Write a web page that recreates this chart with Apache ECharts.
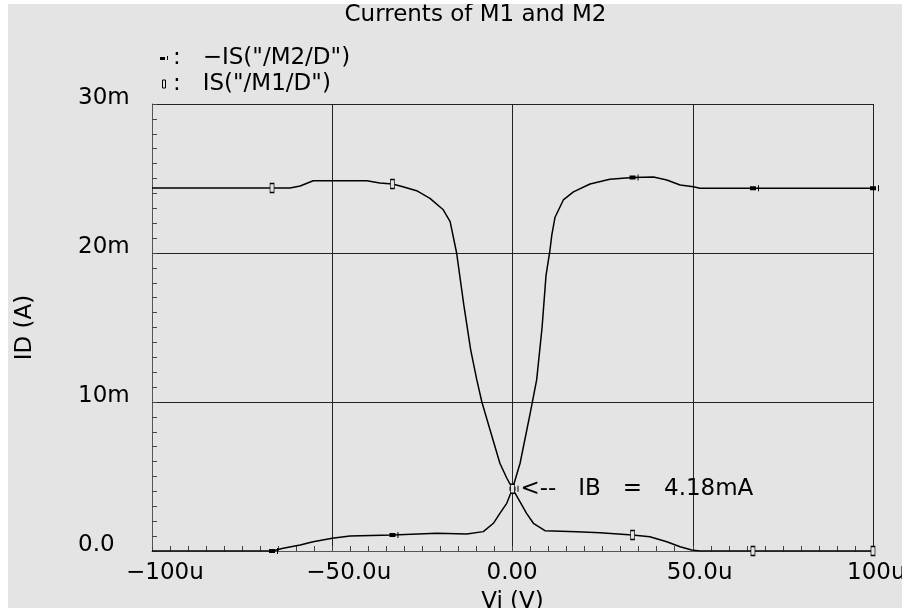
<!DOCTYPE html>
<html><head><meta charset="utf-8">
<script src="https://cdn.jsdelivr.net/npm/echarts/dist/echarts.min.js"></script>
<style>html,body{margin:0;padding:0;background:#fff;}#c{position:absolute;left:8px;top:4px;width:894px;height:604px;background:#e4e4e4;}</style>
</head><body><div id="c"></div><script>
// ---- data ----
const titleText = 'Currents of M1 and M2';
const xName = 'Vi (V)';
const yName = 'ID (A)';
const xTickValues = [-100, -50, 0, 50, 100];
const xTickLabels = ['−100u', '−50.0u', '0.00', '50.0u', '100u'];
const yTickValues = [0, 10, 20, 30];
const yTickLabels = ['0.0', '10m', '20m', '30m'];
const m1Name = 'IS("/M1/D")';
const m2Name = '−IS("/M2/D")';
// x in microvolts, y in milliamps
const m1X = [-100, -66.7, -61.7, -58.9, -55.3, -40.4, -36.8, -33.3, -30.4, -26.6, -22.9, -19.2, -17.3, -15.5, -13.5, -11.6, -9.9, -8.5, -6.2, -3.5, -1.6, 0, 2.1, 3.9, 5.8, 9.0, 17.8, 24.3, 33.3, 38.1, 42.8, 46.5, 49.7, 52.0, 66.7, 100];
const m1Y = [24.36, 24.36, 24.36, 24.5, 24.85, 24.85, 24.7, 24.63, 24.45, 24.18, 23.67, 22.9, 22.1, 20.0, 16.5, 13.5, 11.48, 10.0, 8.1, 5.89, 4.9, 4.18, 3.3, 2.53, 1.86, 1.36, 1.3, 1.23, 1.07, 0.96, 0.62, 0.29, 0.07, 0, 0, 0];
const m2X = [-100, -66.7, -63.6, -58.9, -55.3, -50.0, -45.1, -33.3, -21.0, -12.7, -8.1, -5.3, -3.5, -1.6, 0, 2.1, 4.9, 6.7, 8.2, 9.3, 10.4, 10.9, 11.8, 14.1, 16.9, 21.5, 27.0, 33.3, 39.1, 42.8, 46.5, 50.2, 52.0, 66.7, 100];
const m2Y = [0, 0, 0.18, 0.4, 0.62, 0.85, 1.0, 1.07, 1.19, 1.14, 1.3, 1.86, 2.53, 3.2, 4.18, 5.89, 9.24, 11.48, 15.0, 18.5, 20.2, 21.2, 22.4, 23.56, 24.1, 24.63, 24.95, 25.07, 25.1, 24.9, 24.56, 24.45, 24.34, 24.34, 24.34];
const markerX = [-66.7, -33.3, 0, 33.3, 66.7, 100];
const ibX = 0;
const ibValue = 4.18;
const ibText = '<--   IB   =   4.18mA';

// ---- style ----
const BG = '#e4e4e4';
const FF = '"DejaVu Sans", sans-serif';
const FS = 23;
const LH = 26;
const M2SYM = 'path://M0,1H6V5H0Z M8,0H9V6H8Z';
const M2LEG = 'path://M0,1H5V4H0Z M7,0H8V4H7Z';
const M1LEG = 'path://M0,0H3V8H0Z';

const ctx = document.createElement('canvas').getContext('2d');
ctx.font = FS + 'px "DejaVu Sans"';
const LEFT_SHIFT = 26;
const rich = { t: { fontFamily: FF, fontSize: FS, lineHeight: LH, color: '#000' } };
const xFmt = {};
xTickLabels.forEach((t, i) => {
  const w = ctx.measureText(t).width;
  const s = w - 2 * LEFT_SHIFT;
  rich['p' + i] = { width: Math.max(0.5, Math.abs(s)), lineHeight: LH, fontSize: FS, fontFamily: FF };
  xFmt[xTickValues[i]] = s >= 0 ? '{p' + i + '| }{t|' + t + '}' : '{t|' + t + '}{p' + i + '| }';
});
const titleW = ctx.measureText(titleText).width;

function buildData(xs, ys, markerStyle) {
  return xs.map((x, i) => {
    if (markerX.indexOf(x) >= 0) return Object.assign({ value: [x, ys[i]] }, markerStyle);
    return { value: [x, ys[i]], symbol: 'none' };
  });
}

const chart = echarts.init(document.getElementById('c'), null, { renderer: 'canvas' });
chart.setOption({
  animation: false,
  backgroundColor: BG,
  textStyle: { fontFamily: FF },
  title: {
    text: titleText, left: 467.5 - titleW / 2, top: -2, padding: 0,
    textStyle: { fontFamily: FF, fontSize: FS, fontWeight: 'normal', color: '#000', lineHeight: LH }
  },
  legend: {
    orient: 'vertical', left: 152, top: 41, padding: 0, itemGap: 0,
    itemWidth: 8, itemHeight: 8, selectedMode: false,
    formatter: n => ':   ' + n,
    textStyle: { fontFamily: FF, fontSize: FS, color: '#000', lineHeight: LH },
    data: [
      { name: m2Name, icon: M2LEG, itemStyle: { color: '#000', borderWidth: 0 } },
      { name: m1Name, icon: M1LEG, itemStyle: { color: BG, borderColor: '#000', borderWidth: 1 } }
    ]
  },
  grid: { left: 144, top: 100, width: 721, height: 447, containLabel: false, outerBoundsMode: 'none' },
  xAxis: {
    type: 'value', min: -100, max: 100, interval: 50,
    name: xName, nameLocation: 'middle', nameGap: 33,
    nameTextStyle: { fontFamily: FF, fontSize: FS, color: '#000', lineHeight: LH },
    axisLine: { show: true, onZero: false, lineStyle: { color: '#555', width: 1 } },
    axisTick: { show: true, inside: true, length: 5, lineStyle: { color: '#444' } },
    minorTick: { show: true, splitNumber: 10, length: 5, lineStyle: { color: '#444' } },
    splitLine: { show: true, lineStyle: { color: '#222', width: 1 } },
    axisLabel: {
      interval: 0, margin: 9, align: 'center', verticalAlign: 'top',
      formatter: v => xFmt[v] !== undefined ? xFmt[v] : '',
      rich: rich
    }
  },
  yAxis: {
    type: 'value', min: 0, max: 30, interval: 10,
    name: yName, nameLocation: 'middle', nameGap: 114, nameRotate: 90,
    nameTextStyle: { fontFamily: FF, fontSize: FS, color: '#000', lineHeight: LH },
    axisLine: { show: true, onZero: false, lineStyle: { color: '#555', width: 1 } },
    axisTick: { show: true, inside: true, length: 5, lineStyle: { color: '#444' } },
    minorTick: { show: true, splitNumber: 10, length: 5, lineStyle: { color: '#444' } },
    splitLine: { show: true, lineStyle: { color: '#222', width: 1 } },
    axisLabel: {
      margin: 74, align: 'left', verticalAlign: 'bottom',
      fontFamily: FF, fontSize: FS, color: '#000', lineHeight: 12,
      formatter: v => { const i = yTickValues.indexOf(v); return i >= 0 ? yTickLabels[i] : ''; }
    }
  },
  series: [
    {
      name: m2Name, type: 'line', showSymbol: true, showAllSymbol: true,
      lineStyle: { color: '#000', width: 1.5 }, itemStyle: { color: '#000' },
      emphasis: { disabled: true }, silent: true, z: 3,
      data: buildData(m2X, m2Y, { symbol: M2SYM, symbolSize: [9, 6], symbolOffset: [1.5, 0], itemStyle: { color: '#000', borderWidth: 0 } })
    },
    {
      name: m1Name, type: 'line', showSymbol: true, showAllSymbol: true,
      lineStyle: { color: '#000', width: 1.5 }, itemStyle: { color: BG, borderColor: '#000', borderWidth: 1 },
      emphasis: { disabled: true }, silent: true, z: 4,
      data: buildData(m1X, m1Y, { symbol: 'rect', symbolSize: [4, 9], itemStyle: { color: BG, borderColor: '#000', borderWidth: 1 } }),
      markPoint: {
        symbol: 'circle', symbolSize: 0, silent: true,
        label: { show: true, position: 'right', distance: 8, formatter: ibText, fontFamily: FF, fontSize: FS, color: '#000', lineHeight: LH },
        data: [{ coord: [ibX, ibValue] }]
      }
    }
  ]
});
</script></body></html>
